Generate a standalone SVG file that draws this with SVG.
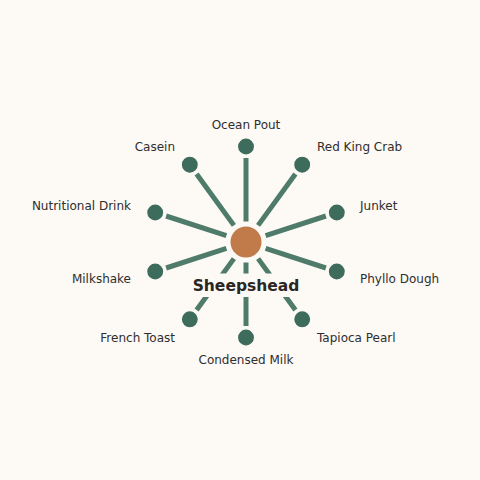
<svg xmlns="http://www.w3.org/2000/svg" width="480" height="480" viewBox="0 0 480 480">
<style>
.edge{stroke:#4f7b6b;stroke-width:5;fill:none}
.leaf{fill:#3d6b5c;stroke:#fdf9f5;stroke-width:1.5}
.lbl{font-family:"DejaVu Sans",sans-serif;font-size:12px;fill:#2e2e2e}
.hub{font-family:"DejaVu Sans",sans-serif;font-size:15.5px;font-weight:bold;fill:#2a2622}
</style>
<rect width="480" height="480" fill="#fdf9f5"/>
<g id="connectors">
<line class="edge" x1="246" y1="221.5" x2="246" y2="158"/>
<line class="edge" x1="258.1" y1="225.4" x2="295.4" y2="174"/>
<line class="edge" x1="265.6" y1="235.6" x2="325.9" y2="216"/>
<line class="edge" x1="265.6" y1="248.4" x2="325.9" y2="268"/>
<line class="edge" x1="258.1" y1="258.6" x2="295.4" y2="310"/>
<line class="edge" x1="246" y1="262.5" x2="246" y2="326"/>
<line class="edge" x1="233.9" y1="258.6" x2="196.6" y2="310"/>
<line class="edge" x1="226.4" y1="248.4" x2="166.1" y2="268"/>
<line class="edge" x1="226.4" y1="235.6" x2="166.1" y2="216"/>
<line class="edge" x1="233.9" y1="225.4" x2="196.6" y2="174"/>
</g>
<g id="hub">
<circle cx="246" cy="242" r="16.5" fill="#c17b4a" stroke="#fdf9f5" stroke-width="2"/>
<rect x="188" y="273.5" width="116" height="23.5" fill="#fdf9f5"/>
<text class="hub" x="246" y="291" text-anchor="middle">Sheepshead</text>
</g>
<g id="n-ocean-pout"><circle class="leaf" cx="246" cy="146.5" r="8.7"/><text class="lbl" x="246" y="128.8" text-anchor="middle">Ocean Pout</text></g>
<g id="n-red-king-crab"><circle class="leaf" cx="302.2" cy="164.7" r="8.7"/><text class="lbl" x="317" y="151" text-anchor="start">Red King Crab</text></g>
<g id="n-junket"><circle class="leaf" cx="336.8" cy="212.5" r="8.7"/><text class="lbl" x="360" y="210" text-anchor="start">Junket</text></g>
<g id="n-phyllo-dough"><circle class="leaf" cx="336.8" cy="271.5" r="8.7"/><text class="lbl" x="360" y="282.5" text-anchor="start">Phyllo Dough</text></g>
<g id="n-tapioca-pearl"><circle class="leaf" cx="302.2" cy="319.3" r="8.7"/><text class="lbl" x="317" y="341.5" text-anchor="start">Tapioca Pearl</text></g>
<g id="n-condensed-milk"><circle class="leaf" cx="246" cy="337.5" r="8.7"/><text class="lbl" x="246" y="363.5" text-anchor="middle">Condensed Milk</text></g>
<g id="n-french-toast"><circle class="leaf" cx="189.8" cy="319.3" r="8.7"/><text class="lbl" x="175" y="341.5" text-anchor="end">French Toast</text></g>
<g id="n-milkshake"><circle class="leaf" cx="155.2" cy="271.5" r="8.7"/><text class="lbl" x="131" y="282.5" text-anchor="end">Milkshake</text></g>
<g id="n-nutritional-drink"><circle class="leaf" cx="155.2" cy="212.5" r="8.7"/><text class="lbl" x="131" y="210" text-anchor="end">Nutritional Drink</text></g>
<g id="n-casein"><circle class="leaf" cx="189.8" cy="164.7" r="8.7"/><text class="lbl" x="175" y="151" text-anchor="end">Casein</text></g>
</svg>
